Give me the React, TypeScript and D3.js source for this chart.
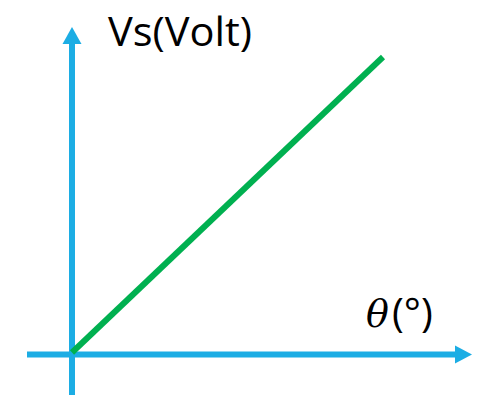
import React from "react";
import * as d3 from "d3";

const thetaValues = [0, 90];
const vsValues = [0, 1];
const yLabel = "Vs(Volt)";
const xLabel = "(°)";

const W = 488;
const H = 395;
const BLUE = "#1CADE4";
const GREEN = "#00B050";

export default function App() {
  const ox = 72;
  const oy = 354.5;
  const x = d3.scaleLinear().domain([0, 90]).range([ox, 383]);
  const y = d3.scaleLinear().domain([0, 1]).range([oy - 2, 57]);
  const pts: [number, number][] = thetaValues.map((t, i) => [x(t), y(vsValues[i])]);
  const line = d3.line()(pts) || "";
  return (
    <svg width={W} height={H} style={{ position: "fixed", left: 0, top: 0, background: "#fff" }}>
      {/* axes shafts */}
      <line x1={ox} x2={ox} y1={42} y2={H + 5} stroke={BLUE} strokeWidth={6} />
      <line x1={27} x2={457} y1={oy} y2={oy} stroke={BLUE} strokeWidth={6} />
      {/* arrowheads */}
      <path d={`M${ox},27 L${ox - 9.5},44 L${ox + 9.5},44 Z`} fill={BLUE} />
      <path d={`M472,${oy} L455,${oy - 9} L455,${oy + 9} Z`} fill={BLUE} />
      {/* data line */}
      <path d={line} stroke={GREEN} strokeWidth={6} fill="none" strokeLinecap="butt" />
      <text x={108} y={46} fontFamily="'Open Sans', sans-serif" fontSize={40} fill="#000" textLength={144} lengthAdjust="spacingAndGlyphs">
        {yLabel}
      </text>
      <text x={366} y={327} fontFamily="'DejaVu Serif', serif" fontStyle="italic" fontSize={38} fill="#000">
        θ
      </text>
      <text x={392} y={327} fontFamily="'Open Sans', sans-serif" fontSize={40} fill="#000">
        {xLabel}
      </text>
    </svg>
  );
}
